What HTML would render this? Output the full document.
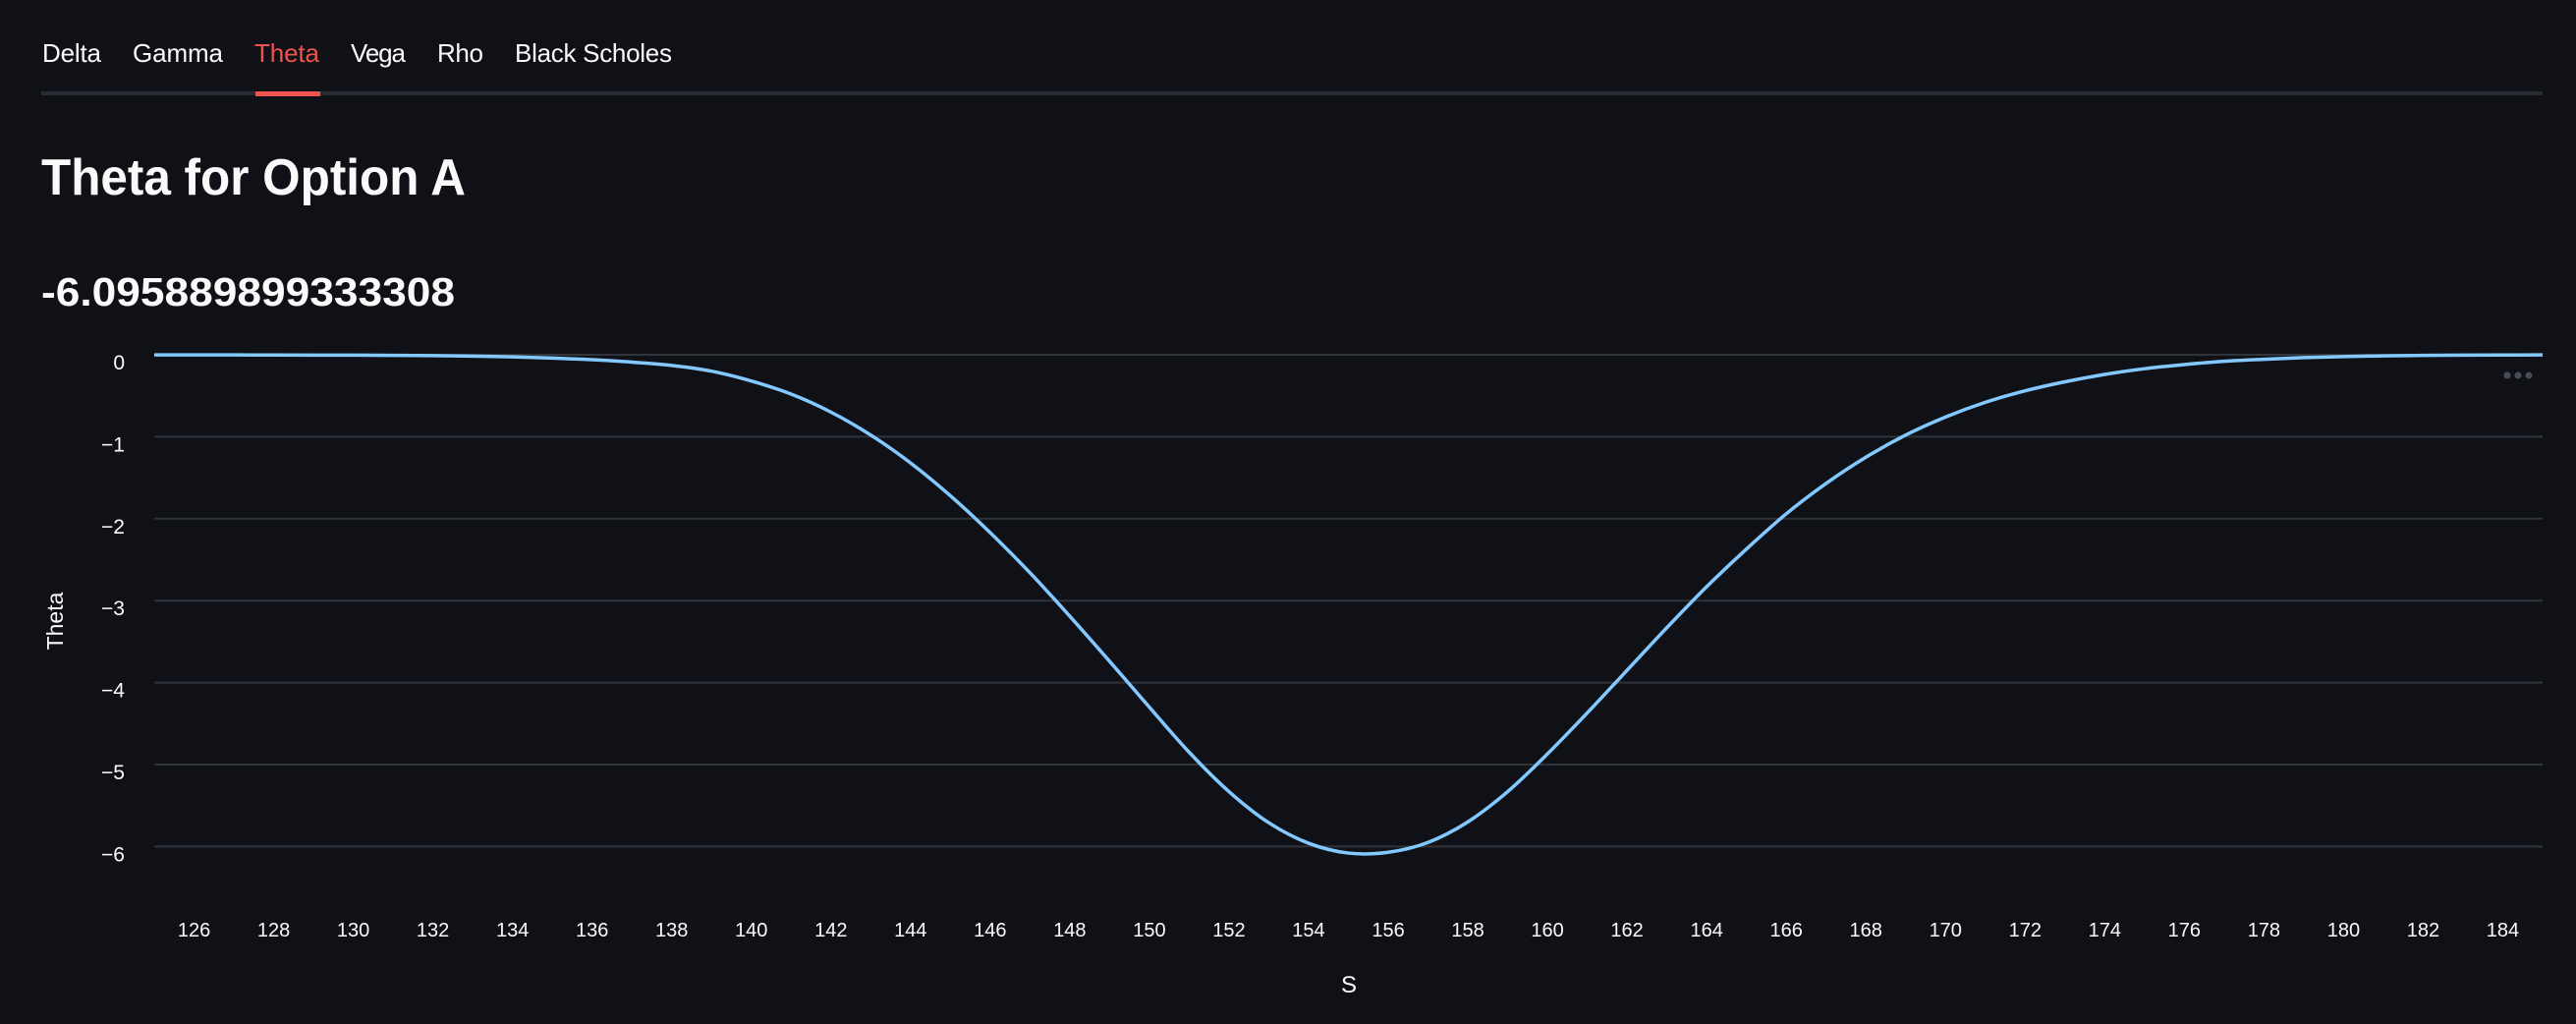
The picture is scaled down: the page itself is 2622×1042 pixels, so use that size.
<!DOCTYPE html>
<html><head><meta charset="utf-8"><style>
html,body{margin:0;padding:0;background:#0f1117;}
svg{display:block;}
text{font-family:"Liberation Sans",sans-serif;}
</style></head><body>
<svg id="chart" width="2622" height="1042" viewBox="0 0 2622 1042">
<rect x="0" y="0" width="2622" height="1042" fill="#0f1117"/>
<g>
<rect x="42" y="93" width="2546" height="4" fill="#2a2c33"/>
<rect x="260" y="93" width="66" height="5" fill="#ef5350"/>
<text x="43" y="63" font-size="26" fill="#fafafa" textLength="60">Delta</text>
<text x="135" y="63" font-size="26" fill="#fafafa" textLength="92">Gamma</text>
<text x="259" y="63" font-size="26" fill="#ef5350" textLength="66">Theta</text>
<text x="357" y="63" font-size="26" fill="#fafafa" textLength="56">Vega</text>
<text x="445" y="63" font-size="26" fill="#fafafa" textLength="47">Rho</text>
<text x="524" y="63" font-size="26" fill="#fafafa" textLength="160">Black Scholes</text>
</g>
<text x="42" y="198" font-size="52" font-weight="bold" fill="#fafafa" textLength="432" lengthAdjust="spacingAndGlyphs">Theta for Option A</text>
<text x="42" y="311" font-size="41" font-weight="bold" fill="#fafafa" textLength="421" lengthAdjust="spacingAndGlyphs">-6.095889899333308</text>
<g id="grid"></g>
<g id="yticks"></g>
<g id="xticks"></g>
<path id="line" fill="none" stroke="#83c9ff" stroke-width="3.5"/>
<text x="0" y="0" transform="translate(64,632) rotate(-90)" text-anchor="middle" font-size="23" fill="#fafafa">Theta</text>
<text x="1373" y="1010" text-anchor="middle" font-size="24" fill="#fafafa">S</text>
<g>
<circle cx="2552" cy="382" r="3.5" fill="#4a4c55"/><circle cx="2563" cy="382" r="3.5" fill="#4a4c55"/><circle cx="2574" cy="382" r="3.5" fill="#4a4c55"/>
</g>
</svg>
<script>
const sValues=[125,126,127,128,129,130,131,132,133,134,135,136,137,138,139,140,141,142,143,144,145,146,147,148,149,150,151,152,153,154,155,156,157,158,159,160,161,162,163,164,165,166,167,168,169,170,171,172,173,174,175,176,177,178,179,180,181,182,183,184,185];
const thetaValues=[-0.001,-0.001,-0.002,-0.003,-0.004,-0.005,-0.007,-0.01,-0.016,-0.025,-0.04,-0.06,-0.09,-0.13,-0.2,-0.32,-0.48,-0.7,-0.98,-1.32,-1.72,-2.17,-2.66,-3.19,-3.74,-4.3,-4.85,-5.33,-5.71,-5.96,-6.08,-6.07,-5.95,-5.7,-5.33,-4.87,-4.37,-3.85,-3.33,-2.83,-2.37,-1.94,-1.57,-1.25,-0.98,-0.76,-0.58,-0.44,-0.33,-0.24,-0.17,-0.12,-0.08,-0.055,-0.035,-0.022,-0.013,-0.008,-0.005,-0.003,-0.002];
const xTicks=[126,128,130,132,134,136,138,140,142,144,146,148,150,152,154,156,158,160,162,164,166,168,170,172,174,176,178,180,182,184];
const yTicks=[0,-1,-2,-3,-4,-5,-6];
const NS='http://www.w3.org/2000/svg';
const X0=157,X1=2588,Y0=361;
function xs(v){return X0+(v-125)*(X1-X0)/60;}
function ys(v){return Y0-v*83.4;}
const grid=document.getElementById('grid'),yt=document.getElementById('yticks'),xt=document.getElementById('xticks');
yTicks.forEach(t=>{
 const l=document.createElementNS(NS,'line');
 l.setAttribute('x1',X0);l.setAttribute('x2',X1);l.setAttribute('y1',ys(t));l.setAttribute('y2',ys(t));
 l.setAttribute('stroke','#31333b');l.setAttribute('stroke-width','2');
 
 
 grid.appendChild(l);
 const tx=document.createElementNS(NS,'text');
 tx.setAttribute('x',127);tx.setAttribute('y',ys(t)+15);tx.setAttribute('text-anchor','end');
 tx.setAttribute('font-size','21');tx.setAttribute('fill','#fafafa');
 tx.textContent=t===0?'0':'\u2212'+Math.abs(t);
 
 
 yt.appendChild(tx);
});
xTicks.forEach(t=>{
 const tx=document.createElementNS(NS,'text');
 tx.setAttribute('x',xs(t));tx.setAttribute('y',953);tx.setAttribute('text-anchor','middle');
 tx.setAttribute('font-size','20');tx.setAttribute('fill','#fafafa');
 tx.textContent=t;
 
 
 xt.appendChild(tx);
});
const pts=sValues.map((s,i)=>[xs(s),ys(thetaValues[i])]);
let d='M'+pts[0][0]+','+pts[0][1];
for(let i=0;i<pts.length-1;i++){
 const p0=pts[Math.max(0,i-1)],p1=pts[i],p2=pts[i+1],p3=pts[Math.min(pts.length-1,i+2)];
 const c1=[p1[0]+(p2[0]-p0[0])/6,p1[1]+(p2[1]-p0[1])/6];
 const c2=[p2[0]-(p3[0]-p1[0])/6,p2[1]-(p3[1]-p1[1])/6];
 d+=' C'+c1[0]+','+c1[1]+' '+c2[0]+','+c2[1]+' '+p2[0]+','+p2[1];
}
document.getElementById('line').setAttribute('d',d);
</script>
</body></html>
